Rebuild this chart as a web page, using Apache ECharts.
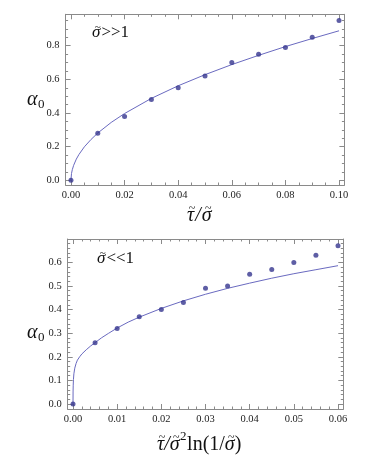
<!DOCTYPE html>
<html><head><meta charset="utf-8">
<script src="https://cdn.jsdelivr.net/npm/echarts@6/dist/echarts.min.js"></script>
<style>html,body{margin:0;padding:0;background:#fff}#c{width:374px;height:466px}</style>
</head><body><div id="c"></div>
<script>
// ---- Top panel data (sigma >> 1) ----
const topPointsX = [0, 0.01, 0.02, 0.03, 0.04, 0.05, 0.06, 0.07, 0.08, 0.09, 0.10];
const topPointsY = [0, 0.28, 0.38, 0.48, 0.55, 0.62, 0.70, 0.75, 0.79, 0.85, 0.95];
const topCurveX = [0, 0.0002, 0.0005, 0.001, 0.002, 0.003, 0.005, 0.0075, 0.01, 0.015, 0.02, 0.03, 0.04, 0.05, 0.06, 0.07, 0.08, 0.09, 0.10];
const topCurveY = [0, 0.04, 0.063, 0.089, 0.126, 0.154, 0.199, 0.243, 0.281, 0.344, 0.397, 0.487, 0.562, 0.628, 0.688, 0.743, 0.795, 0.843, 0.889];
const topXTicks = [0, 0.02, 0.04, 0.06, 0.08, 0.10];
const topYTicks = [0, 0.2, 0.4, 0.6, 0.8];

// ---- Bottom panel data (sigma << 1) ----
const botPointsX = [0, 0.005, 0.01, 0.015, 0.02, 0.025, 0.03, 0.035, 0.04, 0.045, 0.05, 0.055, 0.06];
const botPointsY = [0, 0.26, 0.32, 0.37, 0.40, 0.43, 0.49, 0.50, 0.55, 0.57, 0.60, 0.63, 0.67];
const botCurveX = [0, 0.00002, 0.00005, 0.0001, 0.0002, 0.0004, 0.0007, 0.001, 0.0015, 0.002, 0.003, 0.004, 0.005, 0.0065, 0.008, 0.01, 0.0125, 0.015, 0.02, 0.025, 0.03, 0.035, 0.04, 0.045, 0.05, 0.055, 0.06];
const botCurveY = [0, 0.055, 0.08, 0.104, 0.128, 0.152, 0.172, 0.186, 0.2, 0.212, 0.23, 0.246, 0.26, 0.281, 0.299, 0.322, 0.347, 0.368, 0.405, 0.437, 0.465, 0.490, 0.512, 0.533, 0.552, 0.569, 0.586];
const botXTicks = [0, 0.01, 0.02, 0.03, 0.04, 0.05, 0.06];
const botYTicks = [0, 0.1, 0.2, 0.3, 0.4, 0.5, 0.6];

const FRAME = '#8a8a8a';
const SERIF = '"Liberation Serif","Times New Roman",serif';
const PT = '#36368f';
const LN = '#6a6ac0';
const TXT = '#111';

function minorList(min, max, step, majors) {
  const out = [];
  const start = Math.ceil(min / step - 1e-9);
  for (let k = start; k * step <= max + 1e-12; k++) {
    const v = +(k * step).toFixed(6);
    if (!majors.some(m => Math.abs(m - v) < 1e-9)) out.push(v);
  }
  return out;
}

function axes(kind, grid, min, max, majors, minorStep, dec) {
  const minors = minorList(min, max, minorStep, majors);
  const isX = kind === 'x';
  const pos = isX ? ['bottom', 'top'] : ['left', 'right'];
  const res = [];
  pos.forEach((p, i) => {
    res.push({
      type: 'value', gridIndex: grid, position: p, min: min, max: max,
      axisLine: { show: true, onZero: false, lineStyle: { color: FRAME, width: 1 } },
      axisTick: { show: true, inside: true, length: 5, customValues: majors, lineStyle: { color: FRAME } },
      axisLabel: { show: i === 0, customValues: majors, margin: isX ? 5 : 6,
        formatter: v => (+v).toFixed(dec), fontFamily: SERIF, fontSize: 10.5, color: '#222' },
      splitLine: { show: false }
    });
    res.push({
      type: 'value', gridIndex: grid, position: p, min: min, max: max,
      axisLine: { show: false, onZero: false },
      axisTick: { show: true, inside: true, length: 2.5, customValues: minors, lineStyle: { color: FRAME } },
      axisLabel: { show: false },
      splitLine: { show: false }
    });
  });
  return res;
}

const xAxis = [].concat(
  axes('x', 0, -0.002, 0.102, topXTicks, 0.005, 2),
  axes('x', 1, -0.0012, 0.0612, botXTicks, 0.002, 2)
);
const yAxis = [].concat(
  axes('y', 0, -0.028, 0.987, topYTicks, 0.05, 1),
  axes('y', 1, -0.021, 0.699, botYTicks, 0.02, 1)
);

const zip = (a, b) => a.map((v, i) => [v, b[i]]);

// ---- math-like labels built from segments (tilde drawn over letters) ----
const mctx = document.createElement('canvas').getContext('2d');
function fontOf(s) { return (s.it ? 'italic ' : '') + s.size + 'px ' + SERIF; }
function label(x0, y0, segs) {
  const els = [];
  let x = x0;
  segs.forEach(s => {
    const f = fontOf(s);
    mctx.font = f;
    const w = mctx.measureText(s.t).width;
    els.push({ type: 'text', x: x, y: y0 + (s.dy || 0), silent: true,
      style: { text: s.t, font: f, fill: TXT, verticalAlign: 'middle', align: 'left' } });
    if (s.tilde) {
      els.push({ type: 'text', x: x + w / 2 + (s.it ? 1.5 : 0), y: y0 - s.size * 0.36, silent: true,
        style: { text: '~', font: Math.round(s.size * 0.62) + 'px ' + SERIF, fill: TXT, verticalAlign: 'middle', align: 'center' } });
    }
    x += w + (s.gap || 0);
  });
  return els;
}

const graphics = [].concat(
  label(92, 33, [{ t: 'σ', it: true, size: 17, tilde: true, gap: 1 }, { t: '>>1', size: 17 }]),
  label(97, 259, [{ t: 'σ', it: true, size: 17, tilde: true, gap: 1 }, { t: '<<1', size: 17 }]),
  label(27, 100, [{ t: 'α', it: true, size: 20, gap: 0.5 }, { t: '0', size: 13, dy: 5 }]),
  label(27, 333, [{ t: 'α', it: true, size: 20, gap: 0.5 }, { t: '0', size: 13, dy: 5 }]),
  label(187, 216, [{ t: 'τ', it: true, size: 20, tilde: true, gap: 1 }, { t: '/', it: true, size: 20, gap: 1 }, { t: 'σ', it: true, size: 20, tilde: true }]),
  label(157, 445, [{ t: 'τ', it: true, size: 20, tilde: true }, { t: '/', it: true, size: 20 },
                   { t: 'σ', it: true, size: 20, tilde: true, gap: 0.5 }, { t: '2', size: 13, dy: -8, gap: 0.5 },
                   { t: 'ln(1/', size: 20 }, { t: 'σ', it: true, size: 20, tilde: true }, { t: ')', size: 20 }])
);

const chart = echarts.init(document.getElementById('c'), null, { renderer: 'canvas' });
chart.setOption({
  animation: false,
  backgroundColor: '#fff',
  grid: [
    { left: 65.6, top: 14.3, width: 278.8, height: 170.7 },
    { left: 67.7, top: 239, width: 275.6, height: 170 }
  ],
  xAxis: xAxis,
  yAxis: yAxis,
  series: [
    { type: 'line', xAxisIndex: 0, yAxisIndex: 0, data: zip(topCurveX, topCurveY), showSymbol: false, smooth: false,
      lineStyle: { color: LN, width: 1 }, z: 2 },
    { type: 'scatter', xAxisIndex: 0, yAxisIndex: 0, data: zip(topPointsX, topPointsY), symbolSize: 5,
      itemStyle: { color: PT }, z: 3 },
    { type: 'line', xAxisIndex: 4, yAxisIndex: 4, data: zip(botCurveX, botCurveY), showSymbol: false, smooth: false,
      lineStyle: { color: LN, width: 1 }, z: 2 },
    { type: 'scatter', xAxisIndex: 4, yAxisIndex: 4, data: zip(botPointsX, botPointsY), symbolSize: 5,
      itemStyle: { color: PT }, z: 3 }
  ],
  graphic: graphics
});
</script>
</body></html>
